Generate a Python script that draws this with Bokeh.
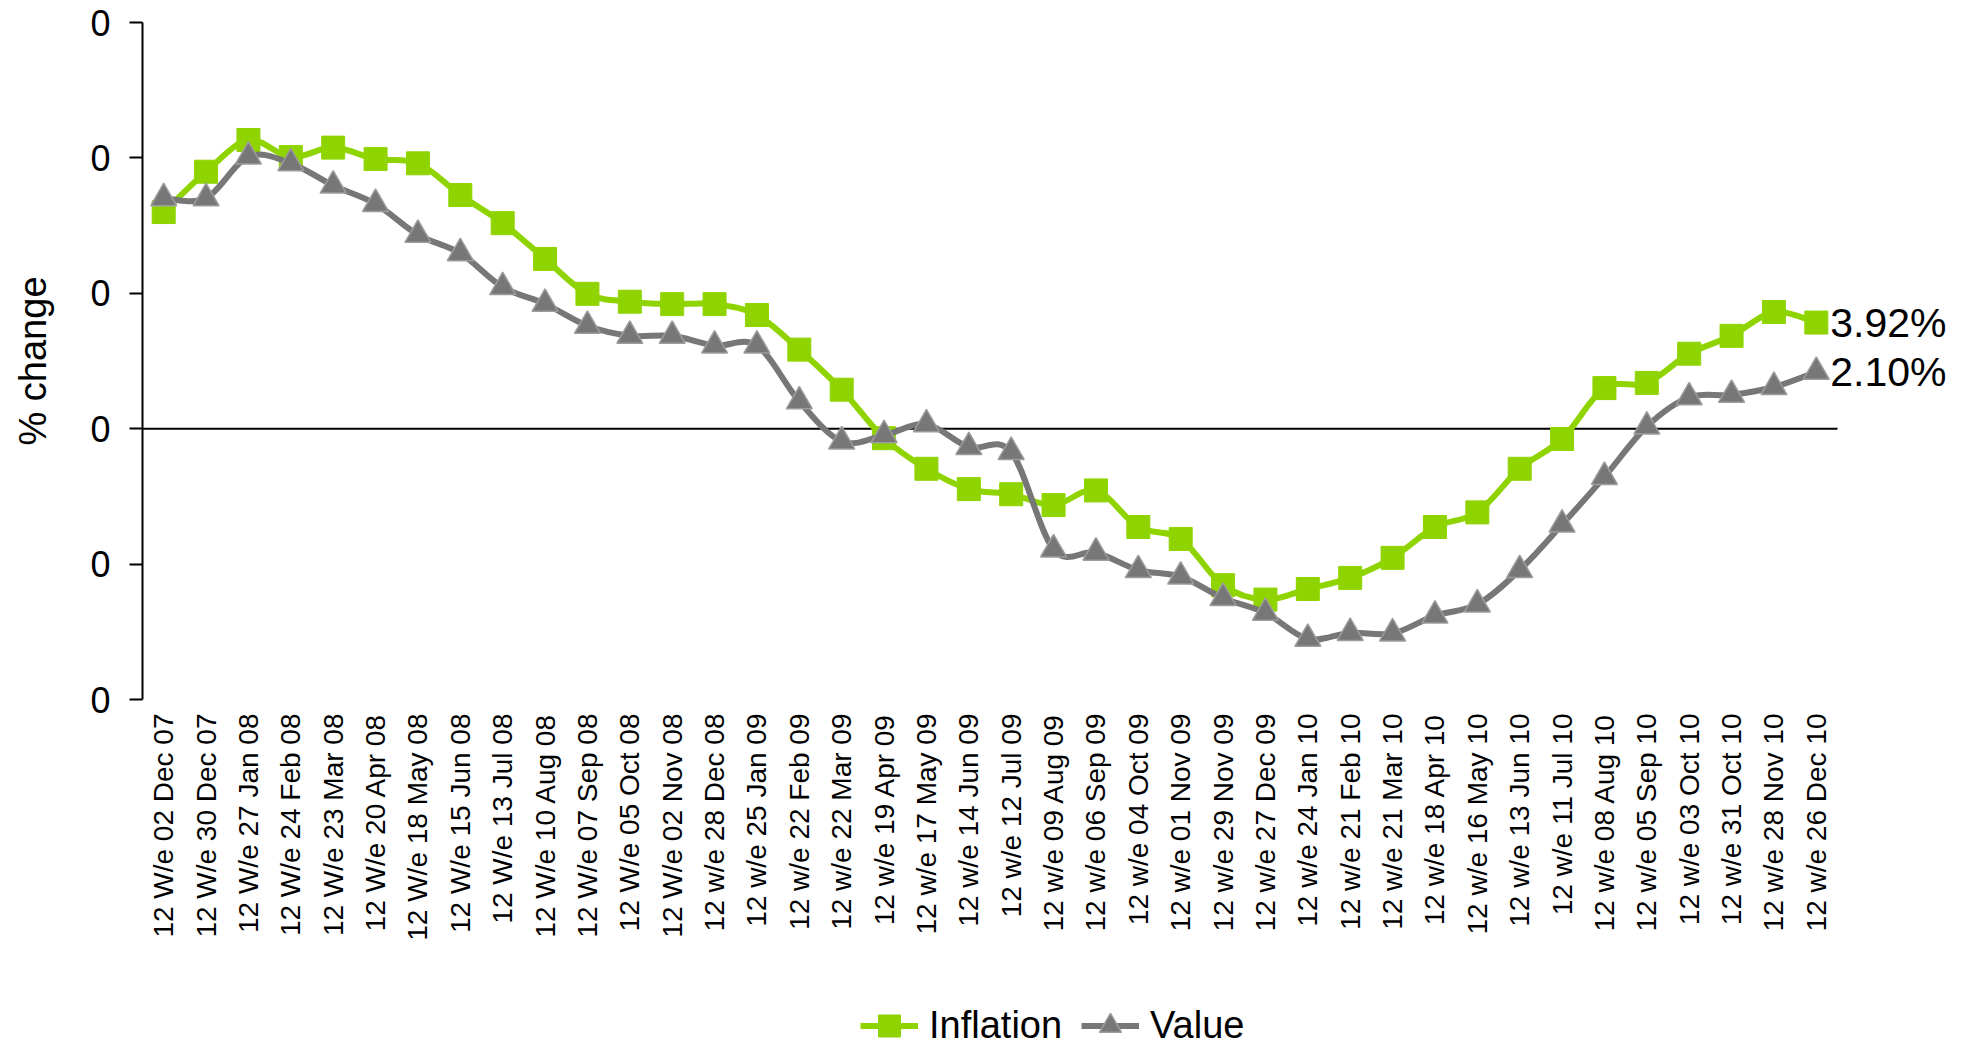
import math
from bokeh.plotting import figure
from bokeh.layouts import column
from bokeh.models import (Range1d, FixedTicker, Legend, LegendItem, Label,
                          ColumnDataSource)
from bokeh.embed import file_html
from bokeh.resources import INLINE

# ---------------- data ----------------
categories = [
    "12 W/e 02 Dec 07", "12 W/e 30 Dec 07", "12 W/e 27 Jan 08", "12 W/e 24 Feb 08",
    "12 W/e 23 Mar 08", "12 W/e 20 Apr 08", "12 W/e 18 May 08", "12 W/e 15 Jun 08",
    "12 W/e 13 Jul 08", "12 W/e 10 Aug 08", "12 W/e 07 Sep 08", "12 W/e 05 Oct 08",
    "12 W/e 02 Nov 08", "12 w/e 28 Dec 08", "12 w/e 25 Jan 09", "12 w/e 22 Feb 09",
    "12 w/e 22 Mar 09", "12 w/e 19 Apr 09", "12 w/e 17 May 09", "12 w/e 14 Jun 09",
    "12 w/e 12 Jul 09", "12 w/e 09 Aug 09", "12 w/e 06 Sep 09", "12 w/e 04 Oct 09",
    "12 w/e 01 Nov 09", "12 w/e 29 Nov 09", "12 w/e 27 Dec 09", "12 w/e 24 Jan 10",
    "12 w/e 21 Feb 10", "12 w/e 21 Mar 10", "12 w/e 18 Apr 10", "12 w/e 16 May 10",
    "12 w/e 13 Jun 10", "12 w/e 11 Jul 10", "12 w/e 08 Aug 10", "12 w/e 05 Sep 10",
    "12 w/e 03 Oct 10", "12 w/e 31 Oct 10", "12 w/e 28 Nov 10", "12 w/e 26 Dec 10",
]

inflation = [
    0.0800, 0.0949, 0.1066, 0.1003, 0.1038, 0.0996, 0.0980, 0.0863, 0.0759, 0.0627,
    0.0498, 0.0469, 0.0460, 0.0460, 0.0420, 0.0292, 0.0144, -0.0035, -0.0148, -0.0223,
    -0.0242, -0.0282, -0.0228, -0.0363, -0.0407, -0.0578, -0.0631, -0.0592, -0.0551, -0.0477,
    -0.0363, -0.0309, -0.0148, -0.0038, 0.0150, 0.0169, 0.0277, 0.0343, 0.0431, 0.0392,
]

value_series = [
    0.0851, 0.0851, 0.1005, 0.0980, 0.0898, 0.0830, 0.0716, 0.0648, 0.0523, 0.0461,
    0.0380, 0.0343, 0.0343, 0.0307, 0.0307, 0.0101, -0.0047, -0.0024, 0.0016, -0.0068,
    -0.0086, -0.0446, -0.0458, -0.0522, -0.0546, -0.0625, -0.0680, -0.0776, -0.0754, -0.0756,
    -0.0690, -0.0649, -0.0522, -0.0354, -0.0178, 0.0008, 0.0116, 0.0125, 0.0154, 0.0210,
]

series_names = ["Inflation", "Value"]
y_ticks = [-0.10, -0.05, 0.0, 0.05, 0.10, 0.15]
y_tick_labels = ["0", "0", "0", "0", "0", "0"]
y_axis_title = "% change"

# ---------------- style / layout ----------------
FONT = "Liberation Sans"
GREEN = "#8FD400"
GRAY = "#777777"
GRAY_EDGE = "#9C9C9C"

W, H = 1973, 1048
H_LEGEND = 73
H_MAIN = H - H_LEGEND
FRAME_LEFT, FRAME_TOP, FRAME_BOTTOM = 142, 22, 699
PX_PER_CAT = 42.375          # width of one category slot in pixels
n = len(categories)
xs = list(range(n))
# frame extends to the right canvas edge so the end-value labels are not clipped
x_end = -0.5 + (W - FRAME_LEFT) / PX_PER_CAT


def bezier_source(xv, yv):
    """Smoothed connecting line (cubic Bezier per segment) through the data points."""
    m = len(xv)
    d = dict(x0=[], y0=[], x1=[], y1=[], cx0=[], cy0=[], cx1=[], cy1=[])
    for i in range(m - 1):
        pm = max(i - 1, 0)
        pp = min(i + 2, m - 1)
        d["x0"].append(xv[i]); d["y0"].append(yv[i])
        d["x1"].append(xv[i + 1]); d["y1"].append(yv[i + 1])
        d["cx0"].append(xv[i] + (xv[i + 1] - xv[pm]) / 6.0)
        d["cy0"].append(yv[i] + (yv[i + 1] - yv[pm]) / 6.0)
        d["cx1"].append(xv[i + 1] - (xv[pp] - xv[i]) / 6.0)
        d["cy1"].append(yv[i + 1] - (yv[pp] - yv[i]) / 6.0)
    return ColumnDataSource(d)


p = figure(
    width=W, height=H_MAIN,
    x_range=Range1d(-0.5, x_end),
    y_range=Range1d(y_ticks[0], y_ticks[-1]),
    output_backend="svg", toolbar_location=None,
    min_border_left=FRAME_LEFT, min_border_right=0,
    min_border_top=FRAME_TOP, min_border_bottom=H_MAIN - FRAME_BOTTOM,
)
p.xgrid.visible = False
p.ygrid.visible = False
p.outline_line_color = None
p.background_fill_color = "white"
p.border_fill_color = "white"

# y axis
yax = p.yaxis[0]
yax.ticker = FixedTicker(ticks=y_ticks)
yax.major_label_overrides = {t: l for t, l in zip(y_ticks, y_tick_labels)}
yax.axis_line_color = "black"
yax.axis_line_width = 2
yax.major_tick_line_color = "black"
yax.major_tick_line_width = 2
yax.major_tick_out = 13
yax.major_tick_in = 0
yax.minor_tick_line_color = None
yax.major_label_standoff = 19
yax.major_label_text_font = FONT
yax.major_label_text_font_size = "36px"
yax.major_label_text_color = "black"
yax.axis_label = y_axis_title
yax.axis_label_text_font = FONT
yax.axis_label_text_font_size = "38px"
yax.axis_label_text_font_style = "normal"
yax.axis_label_text_color = "black"
yax.axis_label_standoff = 33

# x axis
xax = p.xaxis[0]
xax.ticker = FixedTicker(ticks=xs)
xax.major_label_overrides = {i: c for i, c in enumerate(categories)}
xax.major_label_orientation = math.pi / 2
xax.axis_line_color = None
xax.major_tick_line_color = None
xax.minor_tick_line_color = None
xax.major_tick_out = 0
xax.major_tick_in = 0
xax.major_label_standoff = 14
xax.major_label_text_font = FONT
xax.major_label_text_font_size = "28px"
xax.major_label_text_color = "black"

# zero line across the category area
p.segment(x0=[-0.5], y0=[0], x1=[n - 0.5], y1=[0], line_color="black", line_width=2)

# Inflation
src_i = bezier_source(xs, inflation)
p.bezier(x0="x0", y0="y0", x1="x1", y1="y1", cx0="cx0", cy0="cy0",
         cx1="cx1", cy1="cy1", source=src_i, line_color=GREEN, line_width=6)
p.scatter(xs, inflation, marker="square", size=23, fill_color=GREEN,
          line_color=GREEN, line_width=1)

# Value
src_v = bezier_source(xs, value_series)
p.bezier(x0="x0", y0="y0", x1="x1", y1="y1", cx0="cx0", cy0="cy0",
         cx1="cx1", cy1="cy1", source=src_v, line_color=GRAY, line_width=6)
p.scatter(xs, value_series, marker="triangle", size=26, fill_color=GRAY,
          line_color=GRAY_EDGE, line_width=1.5)

# end labels
for ser in (inflation, value_series):
    p.add_layout(Label(x=xs[-1], y=ser[-1], text=f"{ser[-1] * 100:.2f}%",
                       x_offset=14, text_baseline="middle", text_align="left",
                       text_font=FONT, text_font_size="41px", text_color="black"))

# ---------------- legend strip (same series, styled identically) ----------------
lg = figure(
    width=W, height=H_LEGEND,
    x_range=Range1d(1000, 1001), y_range=Range1d(1000, 1001),
    x_axis_location=None, y_axis_location=None,
    output_backend="svg", toolbar_location=None,
    min_border_left=0, min_border_right=0, min_border_top=0, min_border_bottom=0,
)
lg.grid.visible = False
lg.outline_line_color = None
li_l = lg.line(xs, inflation, line_color=GREEN, line_width=6)
li_m = lg.scatter(xs, inflation, marker="square", fill_color=GREEN,
                  line_color=GREEN, line_width=1)
lv_l = lg.line(xs, value_series, line_color=GRAY, line_width=6)
lv_m = lg.scatter(xs, value_series, marker="triangle", fill_color=GRAY,
                  line_color=GRAY_EDGE, line_width=1.5)

# the column aligns this strip's frame with the main frame (left edge at FRAME_LEFT)
legend = Legend(
    items=[LegendItem(label=series_names[0], renderers=[li_l, li_m]),
           LegendItem(label=series_names[1], renderers=[lv_l, lv_m])],
    orientation="horizontal", location=(860 - FRAME_LEFT, -5),
    glyph_width=58, glyph_height=55, label_standoff=11, spacing=19,
    padding=0, margin=0, border_line_color=None, background_fill_alpha=0,
    label_text_font=FONT, label_text_font_size="38px", label_text_color="black",
)
lg.add_layout(legend)

layout = column(p, lg, spacing=0)
open("out.html", "w").write(file_html(layout, INLINE))
